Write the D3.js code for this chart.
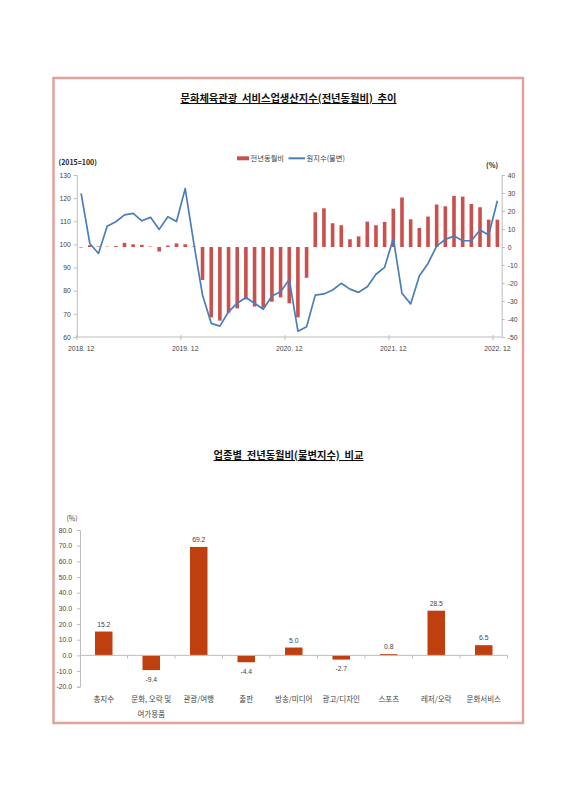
<!DOCTYPE html>
<html>
<head>
<meta charset="utf-8">
<script src="https://cdn.jsdelivr.net/npm/d3@7"></script>
<style>
  body { margin: 0; background: #fff; }
  text { font-family: "Noto Sans CJK KR", "Noto Sans", sans-serif; fill: #333; white-space: pre; }
</style>
</head>
<body>
<div class="chart"></div>
<script>
// months on the top chart, 2018.12 .. 2022.12
let months = [
  "2018.12",
  "2019.01","2019.02","2019.03","2019.04","2019.05","2019.06","2019.07","2019.08","2019.09","2019.10","2019.11","2019.12",
  "2020.01","2020.02","2020.03","2020.04","2020.05","2020.06","2020.07","2020.08","2020.09","2020.10","2020.11","2020.12",
  "2021.01","2021.02","2021.03","2021.04","2021.05","2021.06","2021.07","2021.08","2021.09","2021.10","2021.11","2021.12",
  "2022.01","2022.02","2022.03","2022.04","2022.05","2022.06","2022.07","2022.08","2022.09","2022.10","2022.11","2022.12"
];
let monthTicks = ["2018.12", "2019.12", "2020.12", "2021.12", "2022.12"];

// 원지수(불변), 2015=100
let indexValues = [
  122.1,
  100.4, 96.1, 107.9, 109.8, 112.8, 113.4, 110.2, 111.7, 106.5, 112.0, 109.9, 124.1,
  100.3, 78.1, 65.9, 64.7, 70.9, 74.6, 77.1, 74.6, 72.0, 77.7, 79.6, 84.9,
  62.5, 64.4, 78.1, 78.6, 80.3, 83.2, 80.7, 79.3, 81.7, 87.1, 90.1, 102.6,
  78.9, 74.3, 86.4, 91.8, 99.3, 102.2, 103.6, 101.6, 101.6, 106.2, 104.1, 118.9
];

// 전년동월비 (%)
let yoyValues = [
  -0.3,
  1.0, 0.3, 0.2, 0.5, 2.3, 1.5, 1.2, 0.3, -2.5, 0.8, 2.0, 1.5,
  0.3, -18.3, -39.1, -40.9, -36.5, -34.1, -29.1, -33.1, -33.7, -30.4, -28.0, -31.3,
  -39.1, -17.1, 19.3, 21.5, 13.2, 12.1, 4.3, 5.9, 14.1, 12.1, 13.9, 21.3,
  27.5, 15.4, 10.6, 16.9, 23.6, 22.6, 28.4, 28.0, 23.9, 22.1, 15.2, 15.2
];

let leftTicks = [130, 120, 110, 100, 90, 80, 70, 60];
let rightTicks = [40, 30, 20, 10, 0, -10, -20, -30, -40, -50];

// bottom chart
let sectors = ["총지수", "문화, 오락 및|여가용품", "관광/여행", "출판", "방송/미디어", "광고/디자인", "스포츠", "레저/오락", "문화서비스"];
let sectorValues = [15.2, -9.4, 69.2, -4.4, 5.0, -2.7, 0.8, 28.5, 6.5];
let sectorTicks = [80, 70, 60, 50, 40, 30, 20, 10, 0, -10, -20];

let svgWidth = 566;
let svgHeight = 800;

// plain hyphen for negatives, like the source
let fmtInt = d => String(d);
let fmt1 = d => d.toFixed(1);

let svg = d3.select(".chart")
  .append("svg")
  .attr("width", svgWidth)
  .attr("height", svgHeight);

svg.append("rect")
  .attr("width", svgWidth)
  .attr("height", svgHeight)
  .attr("fill", "#fff");

// outer frame
svg.append("rect")
  .attr("x", 53.5)
  .attr("y", 78)
  .attr("width", 469.5)
  .attr("height", 645)
  .attr("fill", "none")
  .attr("stroke", "#dfa39c")
  .attr("stroke-width", 2.5);

let axisColor = "#bdbdbd";

// ============ top chart ============
let topChart = svg.append("g");

topChart.append("text")
  .attr("x", 288.5)
  .attr("y", 102)
  .attr("text-anchor", "middle")
  .attr("font-size", "10.3px")
  .attr("font-weight", "bold")
  .attr("text-decoration", "underline")
  .style("fill", "#111")
  .text("문화체육관광  서비스업생산지수(전년동월비)  추이");

let xBand = d3.scaleBand()
  .domain(months)
  .range([76.8, 501.7])
  .padding(0);

let yLeft = d3.scaleLinear().domain([60, 130]).range([337, 175]);
let yRight = d3.scaleLinear().domain([-50, 40]).range([337, 175]);

let barW = 3.6;

topChart.selectAll(".yoy")
  .data(yoyValues)
  .enter()
  .append("rect")
  .attr("class", "yoy")
  .attr("x", (d, i) => xBand(months[i]) + xBand.bandwidth() / 2 - barW / 2)
  .attr("y", d => yRight(Math.max(0, d)))
  .attr("width", barW)
  .attr("height", d => Math.abs(yRight(d) - yRight(0)))
  .attr("fill", "#c9504c");

// axes
let leftAxis = d3.axisLeft(yLeft).tickValues(leftTicks).tickFormat(fmtInt).tickSize(3).tickPadding(3);
let rightAxis = d3.axisRight(yRight).tickValues(rightTicks).tickFormat(fmtInt).tickSize(3).tickPadding(3);

let gl = topChart.append("g").attr("transform", "translate(76.8,0)").call(leftAxis);
let gr = topChart.append("g").attr("transform", "translate(501.7,0)").call(rightAxis);

[gl, gr].forEach(g => {
  g.select(".domain").attr("stroke", axisColor);
  g.selectAll(".tick line").attr("stroke", axisColor);
  g.selectAll(".tick text")
    .attr("font-size", "6.8px")
    .style("font-family", "'Liberation Sans', sans-serif")
    .style("fill", "#444");
});

// x axis along the bottom with a tick every 12 months
topChart.append("line")
  .attr("x1", 76.8).attr("x2", 501.7)
  .attr("y1", 337).attr("y2", 337)
  .attr("stroke", axisColor);

topChart.selectAll(".xtick")
  .data(monthTicks)
  .enter()
  .append("line")
  .attr("x1", d => xBand(d)).attr("x2", d => xBand(d))
  .attr("y1", 335).attr("y2", 340)
  .attr("stroke", axisColor);

topChart.selectAll(".xlabel")
  .data(monthTicks)
  .enter()
  .append("text")
  .attr("x", d => xBand(d) + xBand.bandwidth() / 2)
  .attr("y", 350.5)
  .attr("text-anchor", "middle")
  .attr("font-size", "6.8px")
  .style("font-family", "'Liberation Sans', sans-serif")
  .style("fill", "#444")
  .text(d => d.replace(".", ". "));

// index line
let line = d3.line()
  .x((d, i) => xBand(months[i]) + xBand.bandwidth() / 2)
  .y(d => yLeft(d));

topChart.append("path")
  .datum(indexValues)
  .attr("d", line)
  .attr("fill", "none")
  .attr("stroke", "#4a7ebb")
  .attr("stroke-width", 1.7)
  .attr("stroke-linejoin", "round");

// unit labels
topChart.append("text")
  .attr("x", 58.5).attr("y", 165)
  .attr("font-size", "7px").attr("font-weight", "bold")
  .style("fill", "#222")
  .text("(2015=100)");

topChart.append("text")
  .attr("x", 486).attr("y", 167.5)
  .attr("font-size", "7px").attr("font-weight", "bold")
  .style("fill", "#222")
  .text("(%)");

// legend
topChart.append("rect")
  .attr("x", 237).attr("y", 156.3)
  .attr("width", 12).attr("height", 4)
  .attr("fill", "#c9504c");
topChart.append("text")
  .attr("x", 250.5).attr("y", 161)
  .attr("font-size", "7.3px")
  .style("fill", "#444")
  .text("전년동월비");
topChart.append("line")
  .attr("x1", 288.5).attr("x2", 305)
  .attr("y1", 158.3).attr("y2", 158.3)
  .attr("stroke", "#4a7ebb").attr("stroke-width", 2);
topChart.append("text")
  .attr("x", 306.5).attr("y", 161)
  .attr("font-size", "7.3px")
  .style("fill", "#444")
  .text("원지수(불변)");

// ============ bottom chart ============
let botChart = svg.append("g");

botChart.append("text")
  .attr("x", 288.5)
  .attr("y", 459)
  .attr("text-anchor", "middle")
  .attr("font-size", "10.3px")
  .attr("font-weight", "bold")
  .attr("text-decoration", "underline")
  .style("fill", "#111")
  .text("업종별  전년동월비(불변지수)  비교");

let xSector = d3.scaleBand()
  .domain(sectors)
  .range([80, 507.5])
  .padding(0);

let ySector = d3.scaleLinear().domain([-20, 80]).range([686.7, 530]);

let sectorAxis = d3.axisLeft(ySector)
  .tickValues(sectorTicks)
  .tickFormat(fmt1)
  .tickSize(3)
  .tickPadding(5);

let gs = botChart.append("g").attr("transform", "translate(80,0)").call(sectorAxis);
gs.select(".domain").attr("stroke", axisColor);
gs.selectAll(".tick line").attr("stroke", axisColor);
gs.selectAll(".tick text")
  .attr("font-size", "6.8px")
  .style("font-family", "'Liberation Sans', sans-serif")
  .style("fill", "#444");

botChart.append("text")
  .attr("x", 66.5).attr("y", 521)
  .attr("font-size", "7px")
  .style("fill", "#444")
  .text("(%)");

let sBarW = 17.5;

botChart.selectAll(".sbar")
  .data(sectorValues)
  .enter()
  .append("rect")
  .attr("class", "sbar")
  .attr("x", (d, i) => xSector(sectors[i]) + xSector.bandwidth() / 2 - sBarW / 2)
  .attr("y", d => ySector(Math.max(0, d)))
  .attr("width", sBarW)
  .attr("height", d => Math.abs(ySector(d) - ySector(0)))
  .attr("fill", "#bf3f0f");

// zero line with category boundary ticks
botChart.append("line")
  .attr("x1", 80).attr("x2", 507.5)
  .attr("y1", ySector(0)).attr("y2", ySector(0))
  .attr("stroke", axisColor);

botChart.selectAll(".stick")
  .data(sectors.slice(1).concat(["end"]))
  .enter()
  .append("line")
  .attr("x1", d => d === "end" ? 507.5 : xSector(d))
  .attr("x2", d => d === "end" ? 507.5 : xSector(d))
  .attr("y1", ySector(0)).attr("y2", ySector(0) + 3)
  .attr("stroke", axisColor);

// value labels
botChart.selectAll(".slabel")
  .data(sectorValues)
  .enter()
  .append("text")
  .attr("x", (d, i) => xSector(sectors[i]) + xSector.bandwidth() / 2)
  .attr("y", d => d >= 0 ? ySector(d) - 5 : ySector(d) + 11.5)
  .attr("text-anchor", "middle")
  .attr("font-size", "6.8px")
  .style("font-family", "'Liberation Sans', sans-serif")
  .style("fill", "#444")
  .text(d => fmt1(d));

// category labels
botChart.selectAll(".cat")
  .data(sectors)
  .enter()
  .append("text")
  .attr("x", d => xSector(d) + xSector.bandwidth() / 2)
  .attr("y", 702)
  .attr("text-anchor", "middle")
  .attr("font-size", "7.5px")
  .style("fill", "#444")
  .each(function(d) {
    let parts = d.split("|");
    d3.select(this).selectAll("tspan")
      .data(parts)
      .enter()
      .append("tspan")
      .attr("x", xSector(d) + xSector.bandwidth() / 2)
      .attr("dy", (p, j) => j === 0 ? 0 : 14.5)
      .text(p => p);
  });
</script>
</body>
</html>
